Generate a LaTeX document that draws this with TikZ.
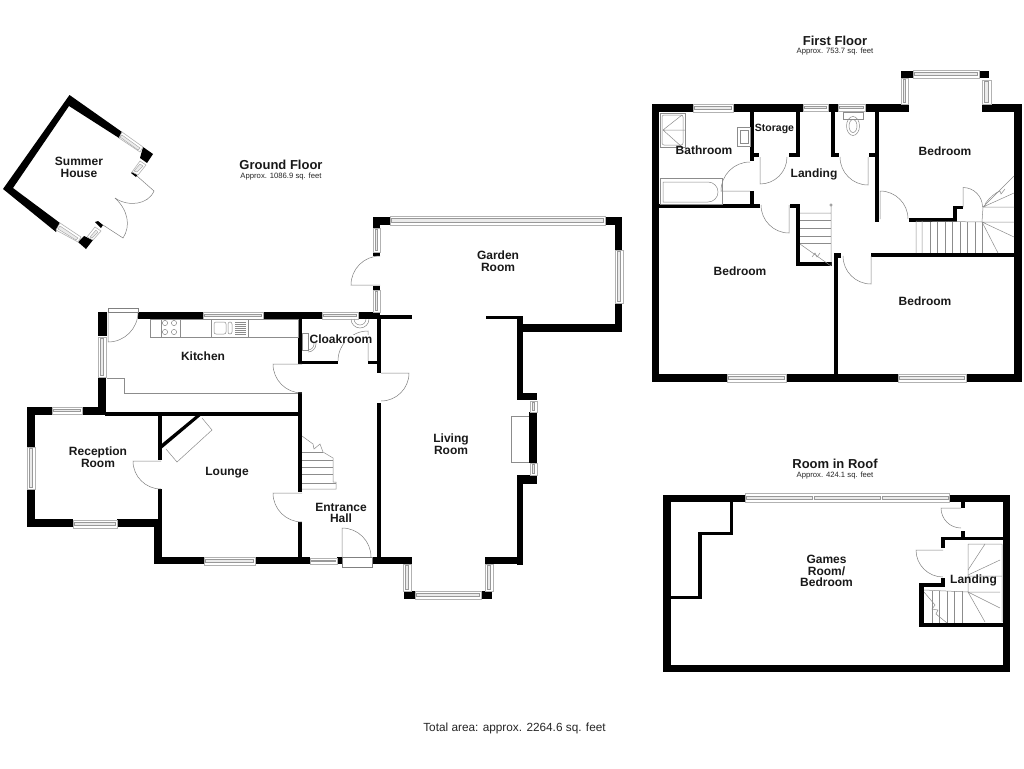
\documentclass[tikz,border=0pt]{standalone}
\usepackage{fontspec}
\setmainfont{Liberation Sans}
\tikzset{
  wall/.style={fill=black,draw=none},
  fitting/.style={draw=black!45,line width=.5pt},
  door/.style={draw=black!50,line width=.5pt},
  winframe/.style={draw=black!30,fill=white,line width=.6pt},
  winpane/.style={draw=black!40,fill=black!8,line width=.35pt},
  room/.style={font=\bfseries\fontsize{12}{11.7}\selectfont,align=center,text=black!90,inner sep=0pt},
  floorname/.style={font=\bfseries\fontsize{13}{13}\selectfont,text=black!90,inner sep=0pt},
  floorarea/.style={font=\fontsize{7.7}{8}\selectfont,text=black!85,inner sep=0pt}
}
\def\wall(#1,#2,#3,#4){\fill[wall] (#1,#2) rectangle (#3,#4);}
\def\winH(#1,#2,#3,#4){\draw[winframe] (#1,#2) rectangle (#3,#4);
  \draw[winpane] (#1+1.5,#2+2.5) rectangle (#3-1.5,#4-2.5);}
\def\winV(#1,#2,#3,#4){\draw[winframe] (#1,#2) rectangle (#3,#4);
  \draw[winpane] (#1+2.5,#2+1.5) rectangle (#3-2.5,#4-1.5);}
\def\swing(#1,#2,#3,#4,#5){\draw[door] (#1,#2) -- ++(#3:#5) arc[start angle=#3,delta angle=#4,radius=#5];}
\begin{document}
\begin{tikzpicture}[x=1pt,y=-1pt]
  \useasboundingbox[fill=white] (0,0) rectangle (1024,768);
  % summer house
  \fill[wall] (122,132) -- (69.5,95) -- (3,189) -- (56,232) -- (60,223) -- (13,188) -- (69,106) -- (119,138) -- cycle;
  \fill[wall] (143,147) -- (153,154) -- (147,163) -- (140,158) -- cycle;
  \fill[wall] (78,242) -- (86,249) -- (93,240) -- (84,236) -- cycle;
  \fill[wall] (131,173) -- (133,171) -- (138,174) -- (136,177) -- cycle;
  \fill[wall] (95,222) -- (98,221) -- (103,225) -- (101,228) -- cycle;
  \draw[winframe] (122,132) -- (143,147) -- (140,152) -- (119,138) -- cycle;
  \draw[winpane] (122,135) -- (140,148) -- (138,150) -- (120,137) -- cycle;
  \draw[winframe] (60,223) -- (81,237) -- (78,242) -- (56,230) -- cycle;
  \draw[winpane] (60,226) -- (78,238) -- (76,240) -- (58,229) -- cycle;
  \draw[winframe] (140,161) -- (146,165) -- (138,175) -- (132,172) -- cycle;
  \draw[winpane] (140,164) -- (143,166) -- (137,172) -- (134,171) -- cycle;
  \draw[winframe] (87,237) -- (95,227) -- (101,231) -- (93,240) -- cycle;
  \draw[winpane] (90,237) -- (96,230) -- (98,232) -- (92,238) -- cycle;
  \draw[door] (137,176) -- (154,191) .. controls (148,205) and (128,207) .. (115,198);
  \draw[door] (103,225) -- (123,238) .. controls (131,226) and (128,210) .. (115,198);
  % ground floor walls
  \wall(98,312,107,336) \wall(138,312,203,319) \wall(263,312,322,319) \wall(358,312,380,319) \wall(380,315,412,319)
  \wall(98,377,106,415) \wall(27,407,35,527) \wall(27,407,52,415) \wall(82,407,106,415) \wall(105,412,302,415.5)
  \wall(27,519,73,527) \wall(117,519,162,527) \wall(154,519,162,564) \wall(158,415,162,460) \wall(158,489,162,520)
  \fill[wall] (158,447) -- (198,414) -- (201,415.5) -- (160,450) -- cycle;
  \wall(154,557,204,564) \wall(255,557,310,564) \wall(337,557,342,564) \wall(372,557,412,564)
  \wall(298,319,302,363.5) \wall(298,361,338,363.5) \wall(368,361,378,363.5) \wall(298,392,302,492) \wall(298,522,302,557)
  \wall(377,319,381,373) \wall(377,403,381,557)
  % garden and living room walls
  \wall(373,217,390,225) \wall(373,217,380,228) \wall(373,252,380,256) \wall(373,286,380,290)
  \wall(605,217,622,225) \wall(615,217,622,250) \wall(615,303,622,332) \wall(517,324,622,332)
  \wall(486,316,520,319) \wall(517,316,523,400) \wall(517,393,537,400) \wall(529,412,537,463) \wall(517,475,537,484)
  \wall(517,475,523,565) \wall(485,557,523,564) \wall(404,591,415,599) \wall(481,591,492,599)
  % ground floor windows
  \winH(203,312,263,319) \winH(322,312,358,319) \winH(52,407,82,414) \winH(73,520,117,528) \winH(204,557,255,565) \winH(310,558,337,564)
  \winH(390,216,605,225) \winH(415,591,481,599)
  \winV(98,337,106,377) \winV(27,447,35,489) \winV(373,228,380,252) \winV(373,290,380,312) \winV(615,250,623,303)
  \winV(530,401,537,412) \winV(530,463,537,475) \winV(403,564,411,591) \winV(485,564,493,591)
  % ground floor doors
  \draw[door] (108,308) rectangle (138,312);
  \swing(108,312,90,-90,30)
  \swing(161,461,180,-90,28)
  \swing(302,364,180,-90,29)
  \swing(302,493,180,-90,29)
  \swing(381,373,0,90,28)
  \swing(368,361,-90,-90,30)
  \draw[door] (342,557) rectangle (372,567);
  \swing(342,557,-90,90,29)
  \swing(380,285,180,90,29)
  % kitchen and cloakroom fittings
  \draw[fitting] (150,319) rectangle (298,337) (161,319) rectangle (180,337) (211,319) rectangle (248,337);
  \foreach \cx in {165,174} \foreach \cy in {323,332} \draw[fitting] (\cx,\cy) circle (2.6);
  \draw[fitting,rounded corners=2pt] (214,322) rectangle (226,334) (228,322) rectangle (232,334);
  \foreach \cy in {322,324,...,334} \draw[fitting] (235,\cy) -- (246,\cy);
  \draw[fitting] (107,378) -- (124,378) -- (124,393) -- (298,393);
  \draw[fitting] (302,333) rectangle (308,350);
  \draw[fitting] (308,338) arc[start angle=-90,delta angle=180,radius=6] (308,336) arc[start angle=-90,delta angle=180,radius=8];
  \draw[fitting] (351,319) arc[start angle=180,delta angle=-180,radius=9] (354,319) arc[start angle=180,delta angle=-180,radius=6];
  \draw[fitting] (166,449) -- (177,462) -- (212,430) -- (202,418);
  % entrance hall stairs
  \draw[fitting] (302,436) -- (313,444) -- (314,449) -- (320,444) -- (323,452) -- (333,458) -- (333,482) -- (336,482) -- (336,489) -- (302,489);
  \foreach \sy/\sx in {452/323,460/333,467/333,474/333,483/336} \draw[fitting] (302,\sy) -- (\sx,\sy);
  % first floor walls
  \wall(652,104,693,112) \wall(733,104,803,112) \wall(828,104,838,112) \wall(865,104,909,112) \wall(982,104,1022,112)
  \wall(652,104,659,382) \wall(1014,104,1022,382) \wall(652,374,727,382) \wall(786,374,898,382) \wall(966,374,1022,382)
  \wall(901,71,913,78) \wall(979,71,989,78)
  \wall(659,204,760,208) \wall(750,112,754,161) \wall(750,153,759,157) \wall(750,191,754,205)
  \wall(796,112,800,157) \wall(789,153,800,157) \wall(831,112,835,157) \wall(831,153,839,157)
  \wall(875,112,879,222) \wall(869,153,875,157) \wall(909,218,957,222) \wall(953,206,957,222) \wall(953,206,963,209)
  \wall(871,253,1014,257) \wall(834,253,838,374) \wall(834,253,841,258)
  \wall(790,204,800,208) \wall(796,204,800,266) \wall(796,262,832,266)
  % first floor windows
  \winH(693,104,733,112) \winH(803,104,828,111) \winH(838,104,865,111) \winH(913,70,979,78) \winH(727,374,786,382) \winH(898,374,966,382)
  \winV(901,78,908,104) \winV(982,80,991,104)
  % first floor doors
  \swing(750,191,180,90,29)
  \swing(760,157,90,-90,27)
  \swing(868,157,90,90,28)
  \swing(880,219,-90,90,28)
  \swing(963,207,-90,90,19.5)
  \swing(871,256,90,90,28)
  \swing(789,205,90,90,28)
  % bathroom fittings
  \draw[fitting] (660,113) rectangle (685,147);
  \draw[fitting,rounded corners=2pt] (662,115) rectangle (683,145);
  \draw[fitting] (682,115) -- (663,130) -- (682,147) (663,130) -- (685,130);
  \draw[fitting] (737,127) rectangle (750,146) (740,130) rectangle (748,143);
  \draw[fitting] (660,178) rectangle (722,204);
  \draw[fitting] (663,182) -- (708,182) arc[start angle=-90,delta angle=180,radius=10] -- (663,202) -- cycle;
  \draw[fitting] (843,112) rectangle (863,119);
  \draw[fitting] (853,126) ellipse (6.5 and 9.5) (853,126) ellipse (4 and 6.5);
  % first floor stairs
  \draw[fitting] (800,213) -- (831,213) (831,204) -- (831,266) (800,244) -- (831,266);
  \foreach \sy in {220,228,236,243} \draw[fitting] (800,\sy) -- (831,\sy);
  \draw[fitting] (812,257) -- (815,253) -- (817,257) -- (820,253);
  \draw[fitting] (831,205) circle (1.2);
  \draw[fitting] (916,221) -- (982,222) (916,221) -- (916,253) (922,221) -- (922,253);
  \foreach \sx in {930,937,945,952,960,967,975,982} \draw[fitting] (\sx,222) -- (\sx,253);
  \draw[fitting] (982,222) -- (1014,237) (982,222) -- (998,253) (982,222) -- (1014,222) (983,207) -- (982,222);
  \draw[fitting] (983,207) -- (1014,207) (983,207) -- (1014,193) (983,207) -- (1014,176);
  \draw[fitting] (985,204) .. controls (990,197) and (995,193) .. (1000,191) (1000,191) -- (1001,194) -- (1005,189);
  % room in roof walls
  \wall(663,495,745,502) \wall(949,495,1010,502) \wall(663,495,671,672) \wall(1003,495,1010,672) \wall(663,665,1010,672)
  \wall(730,502,733,535) \wall(698,532,733,535) \wall(698,532,702,599) \wall(671,596,702,599)
  \wall(961,502,965,508) \wall(961,531,965,540) \wall(941,537,1003,540) \wall(941,537,945,548)
  \wall(941,578,945,587) \wall(919,583,945,587) \wall(919,583,924,627) \wall(919,623,1003,627)
  \draw[winframe] (745,493) rectangle (949,502);
  \foreach \wx/\wy in {746/812,814/880,882/948} \draw[winpane] (\wx,496) rectangle (\wy,499);
  \swing(961,508,180,-90,20)
  \swing(943,550,180,-90,27)
  % room in roof stairs
  \draw[fitting] (968,544) -- (1002,544) -- (1002,622) (968,544) -- (968,592) (924,590) -- (968,592) -- (1000,592);
  \draw[fitting] (968,592) -- (1000,608) (968,592) -- (985,622) (968,570) -- (985,544) (968,575) -- (1000,560) (968,576) -- (1002,576);
  \foreach \sx in {932,939,947,954,962} \draw[fitting] (\sx,591) -- (\sx,623);
  \draw[fitting] (924,592) -- (935,605) -- (932,609) -- (938,610) -- (936,614) -- (947,623);
  % fireplace
  \draw[fitting] (529,416) -- (511,416) -- (511,462) -- (529,462);
  % labels
  \node[room] (summer) at (79,167.5) {Summer\\House};
  \node[floorname] (groundname) at (281,164.5) {Ground Floor};
  \node[floorarea] (groundarea) at (281,176.5) {Approx. 1086.9 sq. feet};
  \node[floorname] (firstname) at (835,40.5) {First Floor};
  \node[floorarea] (firstarea) at (835,52) {Approx. 753.7 sq. feet};
  \node[floorname] (roofname) at (835,464) {Room in Roof};
  \node[floorarea] (roofarea) at (835,476) {Approx. 424.1 sq. feet};
  \node[room] (kitchen) at (203,356.5) {Kitchen};
  \node[room,fill=white,inner xsep=1pt] (cloakroom) at (341,339) {Cloakroom};
  \node[room] (reception) at (98,457.5) {Reception\\Room};
  \node[room] (lounge) at (227,473) {Lounge};
  \node[room] (entrance) at (341,513) {Entrance\\Hall};
  \node[room] (living) at (451,444) {Living\\Room};
  \node[room] (garden) at (498,261.5) {Garden\\Room};
  \node[room] (bathroom) at (704,150) {Bathroom};
  \node[room,font=\bfseries\fontsize{10.5}{11}\selectfont] (storage) at (774.5,128.5) {Storage};
  \node[room] (landing) at (814,174) {Landing};
  \node[room] (bedroomtop) at (945,151) {Bedroom};
  \node[room] (bedroomleft) at (740,271) {Bedroom};
  \node[room] (bedroomright) at (925,301) {Bedroom};
  \node[room] (games) at (826.5,571) {Games\\Room/\\Bedroom};
  \node[room] (roofland) at (973.5,580) {Landing};
  \node[font=\fontsize{11.8}{12}\selectfont,text=black!85,inner sep=0pt] (total) at (514.5,728) {Total area: approx. 2264.6 sq. feet};
\end{tikzpicture}
\end{document}
